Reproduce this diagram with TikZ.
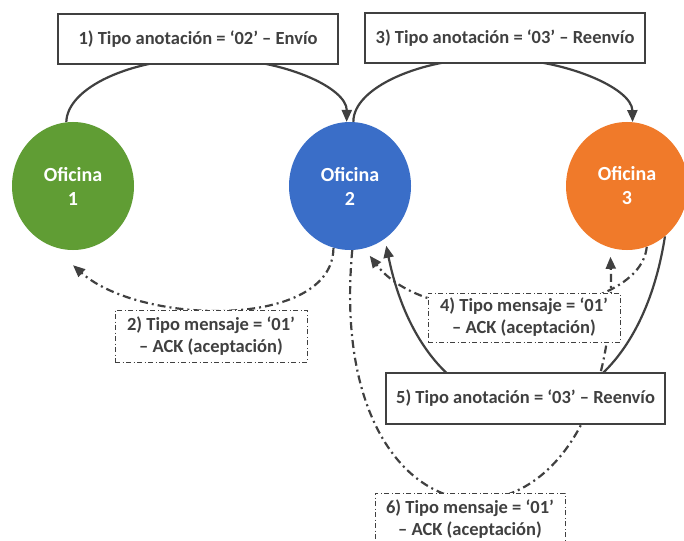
\documentclass[tikz,border=0pt]{standalone}
\usepackage{fontspec}
\setmainfont{Carlito}
\usetikzlibrary{arrows.meta,shapes.geometric,backgrounds}
\definecolor{ofgreen}{RGB}{96,157,52}
\definecolor{ofblue}{RGB}{58,110,200}
\definecolor{oforange}{RGB}{240,122,42}
\definecolor{ink}{RGB}{64,64,64}
\begin{document}
\begin{tikzpicture}[x=1pt,y=-1pt,
  office/.style={ellipse, minimum width=122pt, minimum height=128pt, inner sep=0pt,
    text=white, font=\fontsize{20}{24}\selectfont\bfseries, align=center},
  solidbox/.style={draw=ink, line width=1.2pt, fill=white, text=ink, inner sep=0pt,
    font=\fontsize{18.5}{22}\selectfont\bfseries, minimum height=50pt},
  ackbox/.style={draw=ink, line width=1pt, dash pattern=on 5pt off 2.5pt on 1pt off 2.5pt,
    fill=white, text=ink, inner sep=0pt, align=center, minimum width=192pt,
    font=\fontsize{18.5}{22}\selectfont\bfseries},
  flow/.style={draw=ink, line width=2.2pt, -{Triangle[length=12pt,width=10pt]}},
  ack/.style={flow, dash pattern=on 8pt off 4pt on 2pt off 4pt}
]
\useasboundingbox (0,0) rectangle (684,540);
\clip (0,0) rectangle (684,540);

% offices
\node[office, fill=ofgreen]  (o1) at (73,186)  {Oficina\\1};
\node[office, fill=ofblue]   (o2) at (350,186) {Oficina\\2};
\node[office, fill=oforange] (o3) at (627,186) {Oficina\\3};

% labels
\node[solidbox, minimum width=280pt] (b1) at (198,39) {1) Tipo anotación = ‘02’ – Envío};
\node[solidbox, minimum width=280pt] (b3) at (505,38) {3) Tipo anotación = ‘03’ – Reenvío};
\node[solidbox, minimum width=279pt, minimum height=51pt] (b5) at (525.5,398.5) {5) Tipo anotación = ‘03’ – Reenvío};
\node[ackbox, minimum height=52pt] (b2) at (211,336) {2) Tipo mensaje = ‘01’\\– ACK (aceptación)};
\node[ackbox, minimum height=49pt] (b4) at (524,317.5) {4) Tipo mensaje = ‘01’\\– ACK (aceptación)};
\node[ackbox, minimum width=190pt, minimum height=52pt] (b6) at (470,519) {6) Tipo mensaje = ‘01’\\– ACK (aceptación)};

% connectors (behind the labels)
\begin{scope}[on background layer]
\fill[white] (0,0) rectangle (684,540);
\draw[flow] (o1.96) .. controls (67,88) and (130,58) .. (207,58)
                    .. controls (284,58) and (347,88) .. (o2.93);
\draw[flow] (o2.87) .. controls (353,88) and (420,58) .. (492,58)
                    .. controls (564,58) and (632,88) .. (o3.85);
\draw[ack] (o2.-105) .. controls (333,330) and (140,325) .. ([yshift=-15pt]o1.south);
\draw[ack] (o3.-72) .. controls (640,320) and (430,335) .. ([yshift=-9pt]o2.-72);
\draw[flow] (o3.-53) .. controls (630,460) and (430,460) .. ([yshift=-8pt]o2.-55);
\draw[ack] (o2.-88) .. controls (322,580) and (620,580) .. ([yshift=-9pt]o3.-105);
\end{scope}
\end{tikzpicture}
\end{document}
